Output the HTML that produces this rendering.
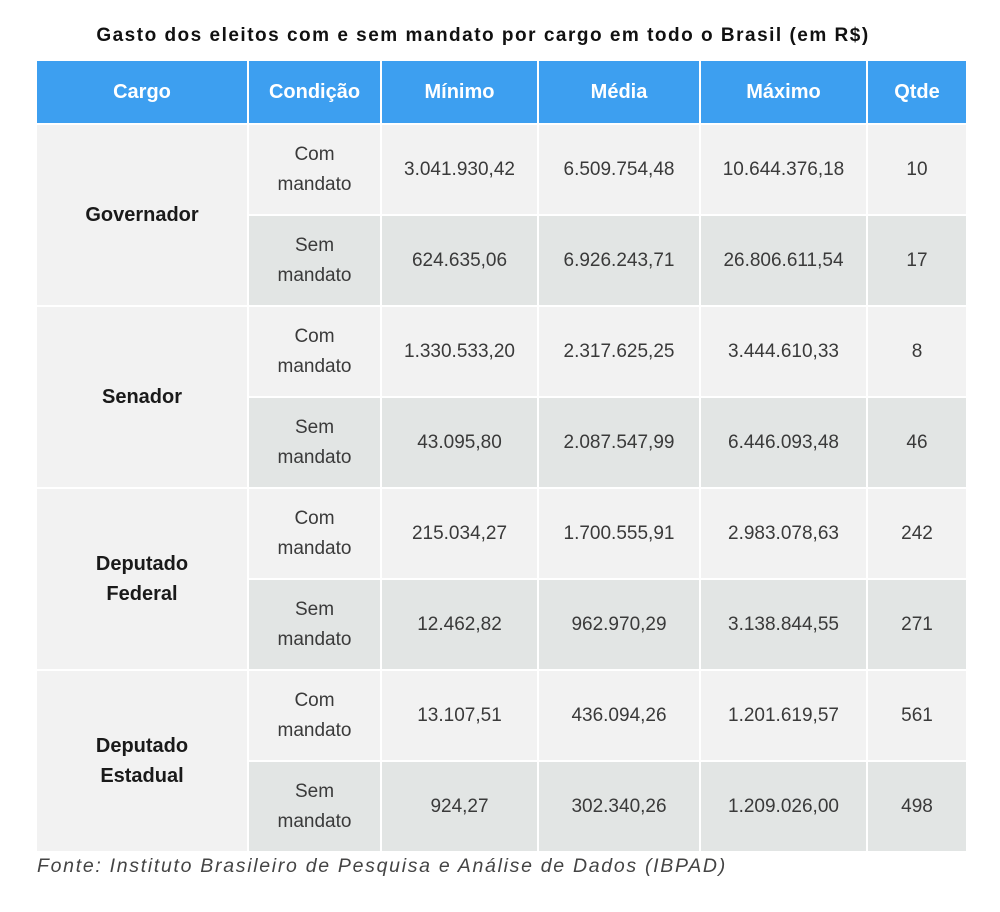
<!DOCTYPE html><html><head><meta charset="utf-8"><style>
body{margin:0;background:#fff;width:1000px;height:912px;position:relative;font-family:"Liberation Sans",sans-serif;color:#333}
.t{position:absolute;top:25px;left:0;width:966px;text-align:center;font-weight:bold;font-size:19px;color:#111;letter-spacing:1.5px}
table{position:absolute;left:35px;top:59px;border-collapse:collapse}
td,th{border:2px solid #fff;text-align:center;padding:0;font-size:19px}
th{background:#3d9ff0;color:#fff;height:62px;font-size:20px}
td{height:89px;line-height:30px;color:#3a3a3a}
.l td{background:#f2f2f2}.d td{background:#e2e5e4}
td.c{background:#f2f2f2;font-weight:bold;color:#1a1a1a;font-size:20px}
.f{position:absolute;left:37px;top:855px;font-style:italic;font-size:19.5px;color:#444;letter-spacing:1.7px}
</style></head><body>
<div class="t">Gasto dos eleitos com e sem mandato por cargo em todo o Brasil (em R$)</div>
<table>
<tr><th style="width:210px">Cargo</th><th style="width:131px">Condição</th><th style="width:155px">Mínimo</th><th style="width:160px">Média</th><th style="width:165px">Máximo</th><th style="width:98px">Qtde</th></tr>
<tr class="l"><td class="c" rowspan="2">Governador</td><td>Com<br>mandato</td><td>3.041.930,42</td><td>6.509.754,48</td><td>10.644.376,18</td><td>10</td></tr>
<tr class="d"><td>Sem<br>mandato</td><td>624.635,06</td><td>6.926.243,71</td><td>26.806.611,54</td><td>17</td></tr>
<tr class="l"><td class="c" rowspan="2">Senador</td><td>Com<br>mandato</td><td>1.330.533,20</td><td>2.317.625,25</td><td>3.444.610,33</td><td>8</td></tr>
<tr class="d"><td>Sem<br>mandato</td><td>43.095,80</td><td>2.087.547,99</td><td>6.446.093,48</td><td>46</td></tr>
<tr class="l"><td class="c" rowspan="2">Deputado<br>Federal</td><td>Com<br>mandato</td><td>215.034,27</td><td>1.700.555,91</td><td>2.983.078,63</td><td>242</td></tr>
<tr class="d"><td>Sem<br>mandato</td><td>12.462,82</td><td>962.970,29</td><td>3.138.844,55</td><td>271</td></tr>
<tr class="l"><td class="c" rowspan="2">Deputado<br>Estadual</td><td>Com<br>mandato</td><td>13.107,51</td><td>436.094,26</td><td>1.201.619,57</td><td>561</td></tr>
<tr class="d"><td>Sem<br>mandato</td><td>924,27</td><td>302.340,26</td><td>1.209.026,00</td><td>498</td></tr>
</table>
<div class="f">Fonte: Instituto Brasileiro de Pesquisa e Análise de Dados (IBPAD)</div>
</body></html>
